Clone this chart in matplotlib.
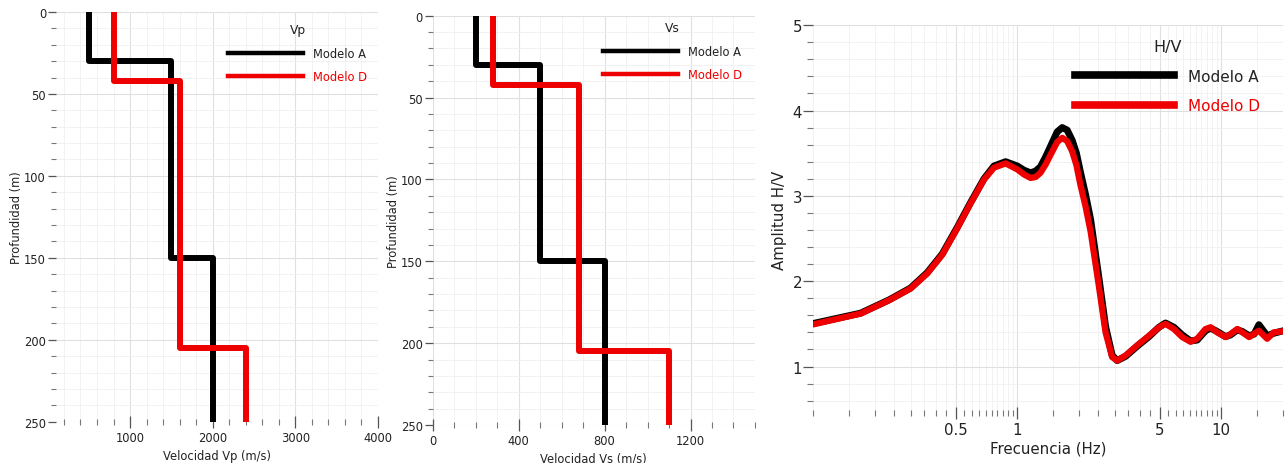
import matplotlib.pyplot as plt
import numpy as np
from matplotlib.ticker import MultipleLocator, FixedLocator, NullFormatter

# perfiles de velocidad (limites de capa en m, velocidad en m/s)
capas_vp_a = [0, 30, 150, 250]
vp_a = [500, 1500, 2000]
capas_vp_d = [0, 42, 205, 250]
vp_d = [800, 1600, 2400]

capas_vs_a = [0, 30, 150, 250]
vs_a = [200, 500, 800]
capas_vs_d = [0, 42, 205, 250]
vs_d = [280, 680, 1100]

# curvas H/V
frec = [0.1027, 0.1706, 0.235, 0.30, 0.362, 0.429, 0.508, 0.590, 0.687, 0.769,
        0.877, 1.0, 1.08, 1.162, 1.23, 1.30, 1.38, 1.456, 1.57, 1.662, 1.758, 1.86,
        1.95, 2.04, 2.16, 2.29, 2.51, 2.71, 2.92, 3.09, 3.40, 3.88, 4.42, 4.95,
        5.33, 5.86, 6.44, 7.07, 7.62, 8.38, 8.87, 9.56, 10.5, 11.1, 12.0, 12.7,
        13.7, 14.5, 15.3, 16.8, 18.1, 19.5]
hv_d = [1.50, 1.62, 1.776, 1.914, 2.09, 2.31, 2.62, 2.91, 3.19, 3.33,
        3.38, 3.31, 3.25, 3.21, 3.22, 3.27, 3.37, 3.48, 3.63, 3.68, 3.64, 3.52,
        3.36, 3.13, 2.88, 2.58, 1.95, 1.40, 1.11, 1.07, 1.13, 1.25, 1.36, 1.46,
        1.50, 1.44, 1.345, 1.29, 1.325, 1.44, 1.46, 1.40, 1.345, 1.38, 1.44, 1.40,
        1.345, 1.385, 1.42, 1.325, 1.40, 1.41]
hv_a = [1.51, 1.625, 1.78, 1.92, 2.10, 2.32, 2.63, 2.92, 3.20, 3.35,
        3.40, 3.35, 3.30, 3.27, 3.29, 3.34, 3.46, 3.58, 3.75, 3.80, 3.77, 3.65,
        3.50, 3.28, 3.02, 2.72, 2.05, 1.47, 1.13, 1.07, 1.12, 1.24, 1.35, 1.46,
        1.51, 1.46, 1.37, 1.30, 1.31, 1.42, 1.45, 1.41, 1.35, 1.37, 1.43, 1.41,
        1.36, 1.38, 1.49, 1.36, 1.39, 1.41]

NEGRO = '#000000'
ROJO = '#ee0000'
GRIS = '#222222'


def perfil(limites, vel):
    z = np.repeat(limites, 2)[1:-1]
    v = np.repeat(vel, 2)
    return v, z


def estilo(ax, fs, ylen=6):
    for s in ax.spines.values():
        s.set_visible(False)
    ax.set_axisbelow(True)
    ax.grid(which='major', color='#e0e0e0', lw=0.8)
    ax.grid(which='minor', color='#f0f0f0', lw=0.6)
    ax.tick_params(axis='y', which='major', direction='out', length=ylen,
                   width=0.9, color='#555555', labelsize=fs, labelcolor=GRIS, pad=1)
    ax.tick_params(axis='y', which='minor', direction='out', length=ylen * 0.6,
                   width=0.8, color='#777777')
    ax.tick_params(axis='x', which='major', direction='inout', length=9,
                   width=0.9, color='#555555', labelsize=fs, labelcolor=GRIS, pad=2)
    ax.tick_params(axis='x', which='minor', direction='inout', length=4,
                   width=0.8, color='#777777')


def leyenda(ax, titulo, x, y, fs, lw, esp):
    leg = ax.legend(title=titulo, loc='upper left', bbox_to_anchor=(x, y),
                    frameon=False, fontsize=fs, title_fontsize=fs + 0.5,
                    handlelength=6.5, handletextpad=0.9, labelspacing=esp,
                    borderpad=0, borderaxespad=0)
    for ln in leg.get_lines():
        ln.set_linewidth(lw)
    for t, c in zip(leg.get_texts(), [GRIS, ROJO]):
        t.set_color(c)
    leg.get_title().set_color(GRIS)


fig = plt.figure(figsize=(12.87, 4.64), dpi=100)
plt.rcParams['font.family'] = ['DejaVu Sans']
FS = 8.3

# --- Vp ---
ax1 = fig.add_axes([0.0433, 0.089, 0.2502, 0.883])
v, z = perfil(capas_vp_a, vp_a)
ax1.plot(v, z, color=NEGRO, lw=4.3, label='Modelo A')
v, z = perfil(capas_vp_d, vp_d)
ax1.plot(v, z, color=ROJO, lw=4.3, label='Modelo D')
ax1.set_xlim(100, 4000)
ax1.set_ylim(250, 0)
ax1.xaxis.set_major_locator(FixedLocator([1000, 2000, 3000, 4000]))
ax1.xaxis.set_minor_locator(MultipleLocator(200))
ax1.yaxis.set_major_locator(MultipleLocator(50))
ax1.yaxis.set_minor_locator(MultipleLocator(10))
estilo(ax1, FS)
ax1.set_xlabel('Velocidad Vp (m/s)', fontsize=FS, color=GRIS, labelpad=4)
ax1.set_ylabel('Profundidad (m)', fontsize=FS, color=GRIS, labelpad=1)
leyenda(ax1, 'Vp', 0.535, 0.972, FS, 3.2, 0.9)

# --- Vs ---
ax2 = fig.add_axes([0.3362, 0.0819, 0.2504, 0.882])
v, z = perfil(capas_vs_a, vs_a)
ax2.plot(v, z, color=NEGRO, lw=4.3, label='Modelo A')
v, z = perfil(capas_vs_d, vs_d)
ax2.plot(v, z, color=ROJO, lw=4.3, label='Modelo D')
ax2.set_xlim(0, 1500)
ax2.set_ylim(250, 0)
ax2.xaxis.set_major_locator(FixedLocator([0, 400, 800, 1200]))
ax2.xaxis.set_minor_locator(MultipleLocator(100))
ax2.yaxis.set_major_locator(MultipleLocator(50))
ax2.yaxis.set_minor_locator(MultipleLocator(10))
estilo(ax2, FS)
ax2.set_xlabel('Velocidad Vs (m/s)', fontsize=FS, color=GRIS, labelpad=3)
ax2.set_ylabel('Profundidad (m)', fontsize=FS, color=GRIS, labelpad=1)
leyenda(ax2, 'Vs', 0.528, 0.986, FS, 3.2, 0.9)

# --- H/V ---
ax3 = fig.add_axes([0.6319, 0.1086, 0.3647, 0.835])
ax3.plot(frec, hv_a, color=NEGRO, lw=5.0, label='Modelo A')
ax3.plot(frec, hv_d, color=ROJO, lw=4.5, label='Modelo D')
ax3.set_xscale('log')
ax3.set_xlim(0.1, 20)
ax3.set_ylim(0.46, 5)
menores = list(np.arange(0.1, 1.0, 0.05)) + list(np.arange(1.5, 10, 0.5)) + [15, 20]
ax3.xaxis.set_major_locator(FixedLocator([0.5, 1, 5, 10]))
ax3.xaxis.set_minor_locator(FixedLocator(menores))
ax3.xaxis.set_minor_formatter(NullFormatter())
ax3.set_xticklabels(['0.5', '1', '5', '10'])
ax3.yaxis.set_major_locator(MultipleLocator(1))
ax3.yaxis.set_minor_locator(MultipleLocator(0.2))
estilo(ax3, 10.8, ylen=7)
ax3.set_xlabel('Frecuencia (Hz)', fontsize=10.8, color=GRIS, labelpad=3)
ax3.set_ylabel('Amplitud H/V', fontsize=10.8, color=GRIS, labelpad=4)
leyenda(ax3, 'H/V', 0.5575, 0.964, 11, 5.5, 0.95)

fig.savefig('out.png', dpi=100)
